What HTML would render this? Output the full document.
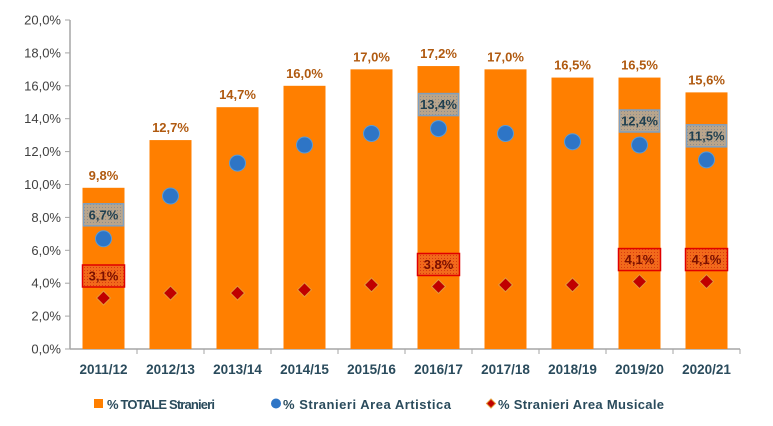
<!DOCTYPE html>
<html><head><meta charset="utf-8"><style>
body{margin:0;background:#fff;width:773px;height:421px;overflow:hidden;font-family:"Liberation Sans",sans-serif}
svg text{font-family:"Liberation Sans",sans-serif}
</style></head><body>
<svg id="c" width="773" height="421"></svg>
<script>
const categories=["2011/12","2012/13","2013/14","2014/15","2015/16","2016/17","2017/18","2018/19","2019/20","2020/21"];
const totals=[9.8,12.7,14.7,16.0,17.0,17.2,17.0,16.5,16.5,15.6];
const artistic=[6.7,9.3,11.3,12.4,13.1,13.4,13.1,12.6,12.4,11.5];
const musical=[3.1,3.4,3.4,3.6,3.9,3.8,3.9,3.9,4.1,4.1];
const labeledIdx=[0,5,8,9];
const yTicks=[0,2,4,6,8,10,12,14,16,18,20];
const svg=document.getElementById('c');const NS='http://www.w3.org/2000/svg';
const x0=70,x1=740,y0=349,yTop=20,maxV=20;
const bw=(x1-x0)/categories.length;
const X=i=>x0+bw*(i+0.5);
const Y=v=>y0-(v/maxV)*(y0-yTop);
function mk(t,a,p){const e=document.createElementNS(NS,t);for(const k in a)e.setAttribute(k,a[k]);(p||svg).appendChild(e);return e;}
const fmt=v=>v.toFixed(1).replace('.',',')+'%';
const defs=mk('defs',{});
const pg=mk('pattern',{id:'pg',width:3,height:3,patternUnits:'userSpaceOnUse'},defs);
mk('rect',{width:3,height:3,fill:'#b9a58c'},pg);mk('rect',{width:1,height:1,fill:'#8c8c8c'},pg);
const pr=mk('pattern',{id:'pr',width:3,height:3,patternUnits:'userSpaceOnUse'},defs);
mk('rect',{width:3,height:3,fill:'#f26a1b'},pr);mk('rect',{width:1,height:1,fill:'#d83a10'},pr);
let ax=mk('line',{x1:x0,y1:yTop,x2:x0,y2:y0,stroke:'#a6a6a6','stroke-width':1.5});

yTicks.forEach(v=>{
 mk('line',{x1:x0-5,y1:Y(v),x2:x0,y2:Y(v),stroke:'#a6a6a6'});
 const t=mk('text',{x:x0-9,y:Y(v)+4.5,'text-anchor':'end','font-size':13,fill:'#404040'});t.textContent=fmt(v);
 
});
let xa=mk('line',{x1:x0,y1:y0,x2:x1,y2:y0,stroke:'#a6a6a6','stroke-width':1.5});

categories.forEach((c,i)=>{
 mk('line',{x1:x0+bw*(i+1),y1:y0,x2:x0+bw*(i+1),y2:y0+5,stroke:'#a6a6a6'});
 const t=mk('text',{x:X(i),y:y0+25,'text-anchor':'middle','font-size':13.5,'font-weight':'bold',fill:'#2a4b5c'});t.textContent=c;
 
});
totals.forEach((v,i)=>{
 const r=mk('rect',{x:X(i)-21,y:Y(v),width:42,height:y0-Y(v),fill:'#ff7f00'});
 
 const t=mk('text',{x:X(i),y:Y(v)-8,'text-anchor':'middle','font-size':13,'font-weight':'bold',fill:'#b05a10'});t.textContent=fmt(v);
 
});
artistic.forEach((v,i)=>{
 const c=mk('circle',{cx:X(i),cy:Y(v),r:8,fill:'#2e75c6',stroke:'#5b9bd5','stroke-width':1});
 
});
musical.forEach((v,i)=>{
 const x=X(i),y=Y(v);
 const d=mk('polygon',{points:`${x},${y-7} ${x+7},${y} ${x},${y+7} ${x-7},${y}`,fill:'#c00000',stroke:'#e39a3a','stroke-width':1});
 
});
labeledIdx.forEach(i=>{
 let y=Y(artistic[i])-24;
 const b=mk('rect',{x:X(i)-20,y:y-11,width:40,height:22,fill:'url(#pg)',stroke:'#7f9fbf','stroke-width':1.5});
 
 let t=mk('text',{x:X(i),y:y+4.5,'text-anchor':'middle','font-size':13,'font-weight':'bold',fill:'#1f3f4f'});t.textContent=fmt(artistic[i]);
 
 y=Y(musical[i])-22;
 const b2=mk('rect',{x:X(i)-21,y:y-11,width:42,height:22,fill:'url(#pr)',stroke:'#e00000','stroke-width':1.5});
 
 t=mk('text',{x:X(i),y:y+4.5,'text-anchor':'middle','font-size':13,'font-weight':'bold',fill:'#7a1000'});t.textContent=fmt(musical[i]);
 
});
const ly=409;
let g=mk('g',{});
mk('rect',{x:94,y:ly-10,width:9,height:9,fill:'#ff7f00'},g);
let t=mk('text',{x:107,y:ly,'font-size':13,'font-weight':'bold',fill:'#2a4b5c',textLength:108},g);t.textContent='% TOTALE Stranieri';
g=mk('g',{});
mk('circle',{cx:276,cy:ly-5.5,r:5,fill:'#2e75c6'},g);
t=mk('text',{x:283,y:ly,'font-size':13,'font-weight':'bold',fill:'#2a4b5c',textLength:168},g);t.textContent='% Stranieri Area Artistica';
g=mk('g',{});
mk('polygon',{points:`491,${ly-10} 495.5,${ly-5.5} 491,${ly-1} 486.5,${ly-5.5}`,fill:'#c00000',stroke:'#e39a3a'},g);
t=mk('text',{x:498,y:ly,'font-size':13,'font-weight':'bold',fill:'#2a4b5c',textLength:166},g);t.textContent='% Stranieri Area Musicale';
</script>
</body></html>
